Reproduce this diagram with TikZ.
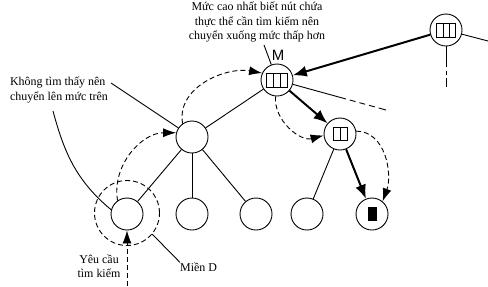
\documentclass[tikz,border=0pt]{standalone}
\usepackage{fontspec}
\setmainfont{Liberation Serif}
\newfontfamily\labelsans{Liberation Sans}
\usetikzlibrary{arrows.meta}

\tikzset{
  nd/.style={circle, draw, line width=0.9pt, minimum size=32bp, inner sep=0pt},
  link/.style={line width=0.9pt},
  walk/.style={line width=2pt, -{Latex[length=14bp,width=11bp]}},
  hop/.style={line width=0.9pt, dash pattern=on 5bp off 3bp, -{Latex[length=13bp,width=9bp]}},
  txt/.style={font=\fontsize{12}{14.5}\selectfont, align=center, inner sep=0pt}
}

\begin{document}
\begin{tikzpicture}[x=1bp, y=-1bp]
\useasboundingbox (0,0) rectangle (488,286);

\node[nd] (R) at (446,30) {};
\node[nd] (M) at (277,80) {};
\node[nd] (N) at (340,134) {};
\node[nd] (L) at (192,137) {};
\node[nd] (Q) at (127,214) {};
\node[nd] (C2) at (192,214) {};
\node[nd] (C3) at (256,214) {};
\node[nd] (C4) at (307,214) {};
\node[nd] (F) at (372,214) {};
\node[circle, draw, line width=0.9pt, dash pattern=on 5bp off 3bp, minimum size=65bp] (D) at (127,213) {};

\draw[link] (436.5,23) rectangle (455.5,37);
\draw[link] (443,23) -- (443,37);
\draw[link] (449,23) -- (449,37);
\draw[link] (266.5,73) rectangle (287.5,87);
\draw[link] (273.5,73) -- (273.5,87);
\draw[link] (280.5,73) -- (280.5,87);
\draw[link] (333,127.5) rectangle (347,140.5);
\draw[link] (340,127.5) -- (340,140.5);
\fill (367.5,207) rectangle (376.5,221);

\node[txt] (T) at (257,22) {Mức cao nhất biết nút chứa\\thực thể cần tìm kiếm nên\\chuyển xuống mức thấp hơn};
\node[font=\labelsans\fontsize{15}{15}\selectfont, inner sep=0pt] (Mname) at (278,55) {M};
\node[txt, align=left] (K) at (59,90) {Không tìm thấy nên\\chuyển lên mức trên};
\node[txt] (Y) at (99,266) {Yêu cầu\\tìm kiếm};
\node[txt, anchor=west] (Dname) at (180,267) {Miền D};

\coordinate (rEast) at (488,41);
\coordinate (rSouth) at (446,87);
\coordinate (mEast) at (386,110);
\coordinate (tFoot) at (264,45);
\coordinate (kFoot) at (111,83);
\coordinate (kBend) at (53,111);
\coordinate (qFrom) at (127,286);

\draw[link] (L) -- (M);
\draw[link] (L) -- (Q);
\draw[link] (L) -- (C2);
\draw[link] (L) -- (C3);
\draw[link] (N) -- (C4);
\draw[link] (R) -- (rEast);
\draw[link, dash pattern=on 21bp off 4bp on 4bp off 3bp on 9bp off 20bp] (R) -- (rSouth);
\draw[link, dash pattern=on 55bp off 4bp on 6bp off 4bp on 6bp off 4bp on 6bp off 4bp on 8bp off 20bp] (M) -- (mEast);

\draw[walk] (R) -- (M);
\draw[walk] (M) -- (N);
\draw[walk] (N) -- (F);

\draw[hop] (Q.125) to[out=100, in=180] (L.165);
\draw[hop] (L.125) to[out=100, in=170] (M.155);
\draw[hop] (M.265) to[out=265, in=195] (N.185);
\draw[hop] (N.10) to[out=0, in=70] (F.50);
\draw[hop] (qFrom) -- (Q);

\draw[link] (tFoot) -- (M);
\draw[link] (kFoot) -- (L);
\draw[link] (kBend) to[out=-75, in=140] (Q.165);
\draw[link] (D.-40) -- (Dname.north west);

\end{tikzpicture}
\end{document}
